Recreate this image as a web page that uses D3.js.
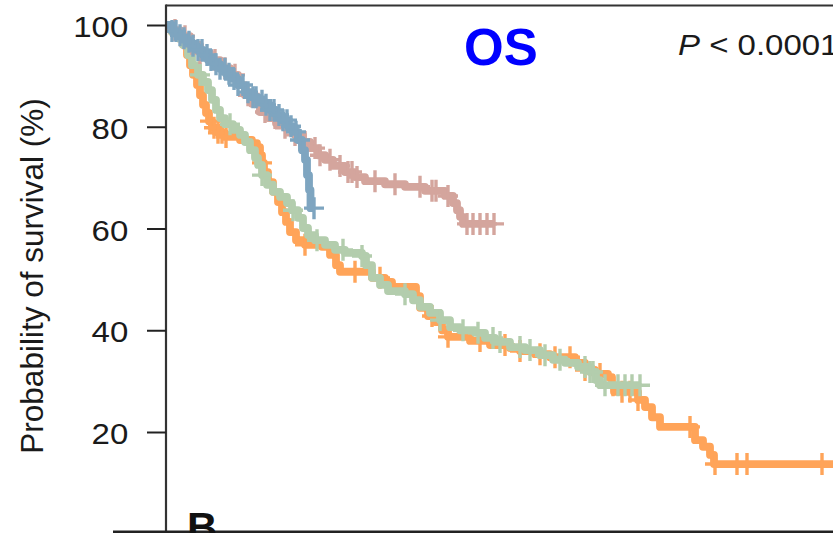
<!DOCTYPE html>
<html><head><meta charset="utf-8">
<script src="https://cdn.jsdelivr.net/npm/d3@7"></script>
<style>body{margin:0;background:#fff}svg{display:block}</style>
</head><body>
<svg id="c" width="833" height="533"></svg>
<script>
// ---- data (time in months, survival in %) ----
const yTicks = [20, 40, 60, 80, 100];

const orangeTimes = [0,1.2,2.4,3.4,4.2,4.8,5.4,6.2,6.8,7.4,8.0,8.6,9.2,10.4,11.8,14.8,17.2,18.2,18.8,19.2,19.6,20.4,21.4,22.4,23.2,24.0,24.8,26.0,27.8,31.2,32.8,34.0,34.8,41.2,43.8,45.2,50.0,50.8,52.4,53.8,55.2,56.4,60.8,64.8,68.8,70.8,73.8,76.8,81.8,83.8,85.8,88.4,89.2,89.6,94.4,95.8,97.2,98.8,105.8,107.4,108.8,109.6];
const orangeSurv = [100,98.6,97.4,96.1,94.1,92.1,90.2,88.2,86.2,84.3,82.7,81.1,79.8,78.8,78.0,77.4,76.8,76.0,74.4,72.9,71.1,69.1,67.2,65.2,63.2,61.3,59.3,57.7,56.8,56.4,54.8,52.8,51.5,50.3,49.5,48.5,46.7,44.4,42.8,41.6,40.0,38.7,37.9,37.1,36.5,35.9,35.3,34.7,33.6,32.2,31.4,30.8,29.2,27.9,26.3,24.9,22.9,21.0,18.4,17.1,15.5,13.7];
const orangeCensor = [8.8,9.6,10.4,11.2,12.0,19.2,27.8,37.8,42.8,53.2,56.4,62.8,67.8,70.8,74.8,77.8,80.8,83.8,86.8,89.4,91.2,92.8,94.4,104.8,109.8,114.2,116.2,131.2,134.5];

const greenTimes = [0,1.2,2.4,3.4,4.4,5.2,6.4,7.4,8.4,9.2,10.0,10.8,11.8,13.4,14.8,15.8,16.8,17.8,18.4,19.2,20.2,21.4,22.8,24.2,25.2,26.4,27.4,28.4,29.8,31.8,33.8,35.8,39.2,40.0,41.2,42.8,44.4,47.8,49.4,50.8,52.8,54.8,56.8,58.8,61.8,63.8,65.8,68.8,71.8,74.8,77.4,79.8,82.4,84.8,86.0,86.8];
const greenSurv = [100,98.6,97.4,96.1,94.1,92.1,90.2,88.8,87.2,85.3,83.3,81.7,80.5,79.4,78.4,77.0,75.4,73.9,72.5,70.5,68.6,67.2,66.2,65.0,63.6,62.1,60.1,58.7,57.7,56.8,55.8,55.2,54.6,52.8,50.3,48.9,47.7,47.1,45.9,44.6,43.4,42.0,40.6,40.0,39.5,38.5,37.7,36.7,36.1,35.1,34.2,33.6,32.8,31.8,30.2,29.2];
const greenCensor = [6.8,12.8,19.2,25.4,30.2,35.4,39.2,47.8,54.8,59.4,62.4,65.4,66.8,70.8,72.8,75.8,78.8,83.8,84.8,85.4,87.8,90.4,91.8,93.2,94.8];

const pinkTimes = [0,1.2,2.8,4.8,6.8,8.8,10.8,12.8,14.4,15.8,17.2,18.8,20.4,22.0,23.8,25.8,27.4,28.8,30.4,31.8,33.4,35.8,37.8,39.8,43.8,47.8,51.8,55.8,57.4,58.2,58.8,59.4];
const pinkSurv = [100,99.0,97.8,96.1,94.5,93.1,91.5,90.2,88.2,86.2,84.5,82.9,81.7,80.7,79.8,78.4,77.0,75.8,74.4,73.5,72.3,71.1,70.1,69.3,68.7,68.2,67.4,66.4,65.0,63.6,62.3,60.9];
const pinkCensor = [1.8,3.8,6.8,9.8,11.8,13.8,16.4,18.4,19.8,21.8,23.8,25.8,27.8,29.8,30.8,32.8,34.8,36.4,37.2,38.2,41.8,45.8,50.8,53.2,54.0,56.4,60.2,61.4,62.8,64.2,65.6];

const blueTimes = [0,1.2,2.2,3.2,4.2,5.2,6.2,7.4,8.4,9.6,10.8,12.0,13.2,14.4,15.8,17.2,18.4,19.6,20.8,22.0,23.2,24.4,25.4,26.4,27.2,27.8,28.2,28.6,28.9];
const blueSurv = [100,98.8,98.0,97.4,96.7,95.9,95.1,94.1,93.1,92.3,91.4,90.4,89.4,88.2,86.8,85.8,85.1,84.3,83.3,82.3,81.3,80.1,79.0,77.4,75.4,73.5,70.5,67.6,64.0];
const blueCensor = [1.2,2.0,2.8,3.6,4.6,5.4,6.4,7.2,8.2,9.0,10.0,10.8,11.8,12.6,13.6,14.4,15.4,16.4,17.4,18.0,19.2,20.0,20.8,21.6,22.6,23.4,24.2,25.0,26.0,26.8,29.6];

const groups = [
  {times: orangeTimes, surv: orangeSurv, censor: orangeCensor, color: '#FFA459'},
  {times: greenTimes,  surv: greenSurv,  censor: greenCensor,  color: '#B3CDAD'},
  {times: pinkTimes,   surv: pinkSurv,   censor: pinkCensor,   color: '#D4A59D'},
  {times: blueTimes,   surv: blueSurv,   censor: blueCensor,   color: '#7EA5C0'}
];

// ---- drawing ----
const svg = d3.select('#c');
const W = 833, H = 533;
const x = d3.scaleLinear().domain([0, 133.4]).range([166, 833]);
const y = d3.scaleLinear().domain([0, 100]).range([533.75, 25]);
const font = '"Liberation Sans", Arial, Helvetica, sans-serif';

svg.append('rect').attr('width', W).attr('height', H).attr('fill', '#fff');

svg.append('defs').append('clipPath').attr('id', 'plot')
  .append('rect').attr('x', 167).attr('y', 6).attr('width', W - 167).attr('height', H - 6);

const plot = svg.append('g').attr('clip-path', 'url(#plot)');
const line = d3.line().x(d => x(d[0])).y(d => y(d[1])).curve(d3.curveStepAfter);
const survAt = (g, t) => g.surv[Math.max(0, d3.bisectRight(g.times, t) - 1)];

groups.forEach(g => {
  const pts = g.times.map((t, i) => [t, g.surv[i]]);
  const tEnd = Math.max(d3.max(g.censor), d3.max(g.times));
  pts.push([tEnd, g.surv[g.surv.length - 1]]);
  const gg = plot.append('g');
  gg.append('path').attr('d', line(pts)).attr('fill', 'none')
    .attr('stroke', g.color).attr('stroke-width', 7.8)
    .attr('stroke-linejoin', 'round');
  gg.selectAll('path.cens').data(g.censor).join('path').attr('class', 'cens')
    .attr('d', t => {
      const cx = x(t), cy = y(survAt(g, t));
      return `M${cx - 10},${cy}H${cx + 10}M${cx},${cy - 11}V${cy + 11}`;
    })
    .attr('stroke', g.color).attr('stroke-width', 3.4).attr('fill', 'none');
});

// frame lines
svg.append('line').attr('x1', 166).attr('x2', W).attr('y1', 5.5).attr('y2', 5.5)
  .attr('stroke', '#333').attr('stroke-width', 2.2);
svg.append('line').attr('x1', 166).attr('x2', 166).attr('y1', 4.4).attr('y2', H)
  .attr('stroke', '#333').attr('stroke-width', 2.2);
svg.append('line').attr('x1', 113).attr('x2', W).attr('y1', 531.8).attr('y2', 531.8)
  .attr('stroke', '#222').attr('stroke-width', 2.6);

// y axis
const ax = svg.append('g').attr('transform', 'translate(166,0)')
  .call(d3.axisLeft(y).tickValues(yTicks).tickSize(19).tickFormat(d3.format('d')));
ax.select('.domain').remove();
ax.selectAll('.tick line').attr('stroke', '#222').attr('stroke-width', 2);
ax.selectAll('.tick text')
  .attr('x', 0).attr('dy', 11.5)
  .attr('transform', 'translate(-37.7,0) scale(1.1,1)')
  .attr('text-anchor', 'end')
  .style('font-family', font).style('font-size', '30px').attr('fill', '#1a1a1a');

svg.append('text').attr('transform', 'translate(43,276) rotate(-90)')
  .attr('text-anchor', 'middle').style('font-family', font).style('font-size', '31.5px')
  .attr('fill', '#1a1a1a').text('Probability of survival (%)');

// annotations
svg.append('text').attr('x', 464).attr('y', 65)
  .style('font-family', font).style('font-size', '51px').style('font-weight', 'bold')
  .attr('fill', '#0000FF').text('OS');

const pt = svg.append('text').attr('transform', 'translate(678,55) scale(1.1,1)')
  .style('font-family', font).style('font-size', '30px').attr('fill', '#1a1a1a');
pt.append('tspan').style('font-style', 'italic').text('P');
pt.append('tspan').text(' < 0.0001');

svg.append('text').attr('x', 187).attr('y', 542)
  .style('font-family', font).style('font-size', '42px').style('font-weight', 'bold')
  .attr('fill', '#111').text('B');
</script>
</body></html>
